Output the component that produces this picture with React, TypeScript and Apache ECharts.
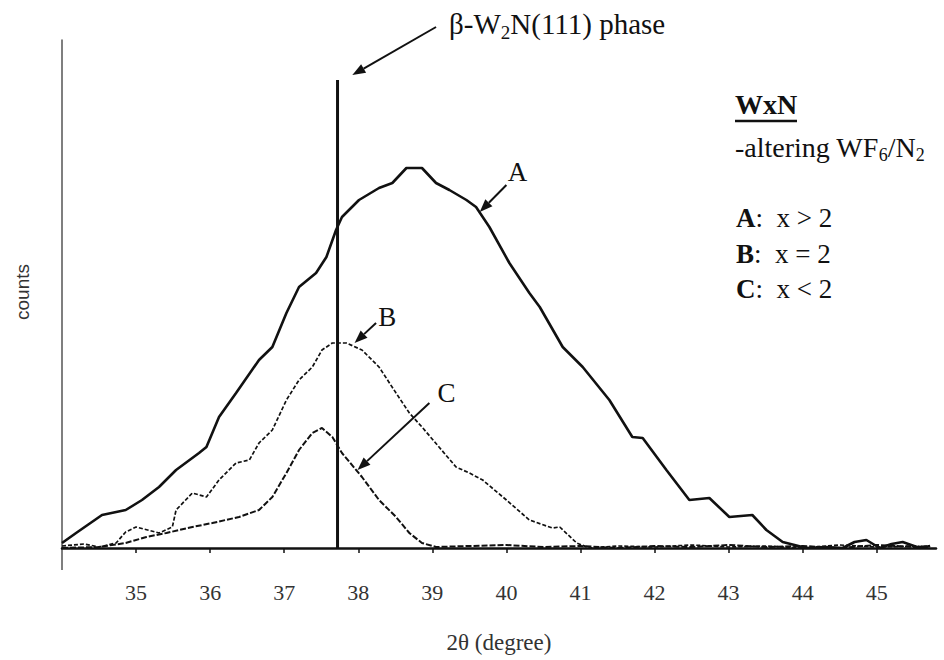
import React, { useEffect, useRef } from "react";
import * as echarts from "echarts";

// x = 2θ (degree), y = counts (arbitrary units)
const xTickValues = [35, 36, 37, 38, 39, 40, 41, 42, 43, 44, 45];

const curveA: [number, number][] = [
  [34.0, 5], [34.19, 15], [34.54, 33], [34.86, 38], [35.08, 48], [35.31, 61],
  [35.54, 78], [35.85, 95], [35.95, 101], [36.12, 131], [36.35, 155], [36.66, 188],
  [36.84, 201], [37.03, 235], [37.2, 261], [37.43, 275], [37.57, 291], [37.7, 318],
  [37.78, 331], [38.01, 348], [38.28, 360], [38.46, 365], [38.65, 380], [38.86, 380],
  [39.05, 365], [39.23, 358], [39.46, 348], [39.59, 341], [39.77, 321], [40.04, 285],
  [40.31, 255], [40.45, 241], [40.76, 201], [41.03, 181], [41.39, 148], [41.7, 111],
  [41.84, 110], [42.16, 78], [42.47, 48], [42.74, 50], [43.01, 31], [43.32, 33],
  [43.51, 18], [43.73, 6], [44.05, 0], [44.32, 1], [44.54, 0], [44.7, 6], [44.86, 8],
  [45.04, 0], [45.2, 4], [45.35, 6], [45.58, 0], [45.72, 2],
];

const curveB: [number, number][] = [
  [34.0, 2], [34.3, 4], [34.5, 1], [34.73, 5], [34.86, 16], [35.0, 21], [35.31, 15],
  [35.49, 21], [35.54, 38], [35.76, 55], [35.95, 51], [36.12, 68], [36.35, 85],
  [36.53, 88], [36.66, 105], [36.84, 118], [37.03, 148], [37.2, 168], [37.38, 181],
  [37.51, 198], [37.65, 205], [37.84, 205], [38.05, 198], [38.28, 181], [38.51, 155],
  [38.69, 135], [38.86, 121], [39.09, 101], [39.32, 81], [39.5, 75], [39.68, 68],
  [40.0, 48], [40.31, 28], [40.62, 20], [40.72, 21], [40.95, 5], [41.12, 0],
  [41.5, 2], [42.0, 1], [42.5, 3], [43.0, 1], [43.5, 2], [44.0, 0], [44.5, 3],
  [45.0, 1], [45.5, 2], [45.72, 1],
];

const curveC: [number, number][] = [
  [34.0, 0], [34.5, 1], [34.86, 5], [35.14, 11], [35.41, 15], [35.76, 21], [36.03, 25],
  [36.39, 31], [36.66, 38], [36.84, 51], [37.03, 75], [37.2, 98], [37.38, 115],
  [37.51, 120], [37.65, 111], [37.78, 95], [38.05, 71], [38.28, 48], [38.51, 31],
  [38.69, 15], [38.86, 5], [39.05, 1], [39.5, 2], [40.0, 3], [40.5, 1], [41.0, 2],
  [41.5, 0], [42.0, 2], [42.5, 1], [43.0, 3], [43.5, 1], [44.0, 2], [44.5, 0],
  [45.0, 3], [45.5, 1], [45.72, 2],
];

const phaseLine: [number, number][] = [[37.72, 0], [37.72, 468]];

// annotation arrows (tail -> head), in data coordinates
const arrows: { from: [number, number]; to: [number, number] }[] = [
  { from: [39.05, 521], to: [37.92, 473] },
  { from: [40.0, 363], to: [39.64, 336] },
  { from: [38.24, 225], to: [37.95, 205] },
  { from: [38.96, 145], to: [37.99, 78] },
];

const curveLabels: { text: string; at: [number, number] }[] = [
  { text: "A", at: [40.15, 376] },
  { text: "B", at: [38.39, 231] },
  { text: "C", at: [39.19, 155] },
];

const SERIF = "Liberation Serif, Times New Roman, serif";
const SANS = "Liberation Sans, Arial, sans-serif";

export default function App() {
  const ref = useRef<HTMLDivElement>(null);

  useEffect(() => {
    const chart = echarts.init(ref.current!, null, { renderer: "svg" });
    chart.setOption({
      animation: false,
      backgroundColor: "#ffffff",
      textStyle: { fontFamily: SERIF },
      grid: { left: 62, right: 8, top: 40, bottom: 112, outerBoundsMode: "none", containLabel: false },
      xAxis: {
        type: "value",
        min: 34,
        max: 45.8,
        interval: 1,
        axisLine: { lineStyle: { color: "#111", width: 2.5 } },
        axisTick: { show: true, length: 5, lineStyle: { color: "#111", width: 1.5 } },
        axisLabel: {
          showMinLabel: false,
          showMaxLabel: false,
          margin: 33,
          fontFamily: SERIF,
          fontSize: 22,
          color: "#333",
          formatter: (v: number) => (xTickValues.includes(v) ? String(v) : ""),
        },
        splitLine: { show: false },
        name: "2θ (degree)",
        nameLocation: "middle",
        nameGap: 83,
        nameTextStyle: { fontFamily: SERIF, fontSize: 23, color: "#333" },
      },
      yAxis: {
        type: "value",
        min: 0,
        max: 508,
        axisLine: { show: true, lineStyle: { color: "#555", width: 1.5 } },
        axisTick: { show: false },
        axisLabel: { show: false },
        splitLine: { show: false },
      },
      series: [
        {
          name: "A", type: "line", data: curveA, showSymbol: false, z: 4,
          lineStyle: { color: "#111", width: 2.6 },
        },
        {
          name: "B", type: "line", data: curveB, showSymbol: false, z: 3,
          lineStyle: { color: "#111", width: 1.7, type: [4, 2] },
        },
        {
          name: "C", type: "line", data: curveC, showSymbol: false, z: 3,
          lineStyle: { color: "#111", width: 2, type: [6, 2] },
        },
        {
          name: "phase", type: "line", data: phaseLine, showSymbol: false, z: 5,
          lineStyle: { color: "#111", width: 3 },
        },
      ],
    });

    const toPx = (p: [number, number]) =>
      chart.convertToPixel({ gridIndex: 0 }, p) as unknown as number[];

    const graphics: any[] = [];
    // y axis continues a little below the baseline, as in the reference
    const [ax0, ay0] = toPx([34, 0]);
    graphics.push({
      type: "line",
      shape: { x1: ax0, y1: ay0, x2: ax0, y2: ay0 + 22 },
      style: { stroke: "#555", lineWidth: 1.5 },
    });

    arrows.forEach((a) => {
      const [x1, y1] = toPx(a.from);
      const [x2, y2] = toPx(a.to);
      const dx = x2 - x1, dy = y2 - y1;
      const len = Math.hypot(dx, dy);
      const ux = dx / len, uy = dy / len;
      const hl = 13, hw = 5;
      const bx = x2 - ux * hl, by = y2 - uy * hl;
      graphics.push({
        type: "line",
        shape: { x1, y1, x2: bx, y2: by },
        style: { stroke: "#111", lineWidth: 2 },
      });
      graphics.push({
        type: "polygon",
        shape: { points: [[x2, y2], [bx - uy * hw, by + ux * hw], [bx + uy * hw, by - ux * hw]] },
        style: { fill: "#111" },
      });
    });
    curveLabels.forEach((l) => {
      const [x, y] = toPx(l.at);
      graphics.push({
        type: "text", x, y,
        style: {
          text: l.text, fontFamily: SERIF, fontSize: 27, fill: "#111",
          align: "center", verticalAlign: "middle",
        },
      });
    });

    const rich = (size: number) => ({
      n: { fontFamily: SERIF, fontSize: size, fill: "#111", lineHeight: size + 6, verticalAlign: "middle" },
      s: { fontFamily: SERIF, fontSize: Math.round(size * 0.65), fill: "#111", lineHeight: size + 6, verticalAlign: "bottom" },
      b: { fontFamily: SERIF, fontSize: size, fontWeight: "bold", fill: "#111", lineHeight: size + 6, verticalAlign: "middle" },
    });

    graphics.push(
      {
        type: "text", x: 449, y: 24,
        style: {
          text: "{n|β-W}{s|2}{n|N(111) phase}", rich: rich(29), fontFamily: SERIF,
          align: "left", verticalAlign: "middle",
        },
      },
      {
        type: "text", x: 735, y: 104,
        style: {
          text: "WxN", fontFamily: SERIF, fontSize: 28, fontWeight: "bold", fill: "#111",
          align: "left", verticalAlign: "middle",
        },
      },
      {
        type: "line",
        shape: { x1: 735, y1: 121, x2: 797, y2: 121 },
        style: { stroke: "#111", lineWidth: 2.5 },
      },
      {
        type: "text", x: 735, y: 147,
        style: {
          text: "{n|-altering WF}{s|6}{n|/N}{s|2}", rich: rich(28), fontFamily: SERIF,
          align: "left", verticalAlign: "middle",
        },
      },
      {
        type: "text", x: 736, y: 218,
        style: { text: "{b|A}{n|:  x > 2}", rich: rich(27), fontFamily: SERIF, align: "left", verticalAlign: "middle" },
      },
      {
        type: "text", x: 736, y: 254,
        style: { text: "{b|B}{n|:  x = 2}", rich: rich(27), fontFamily: SERIF, align: "left", verticalAlign: "middle" },
      },
      {
        type: "text", x: 736, y: 289,
        style: { text: "{b|C}{n|:  x < 2}", rich: rich(27), fontFamily: SERIF, align: "left", verticalAlign: "middle" },
      },
      {
        type: "text", x: 22, y: 292, rotation: Math.PI / 2,
        style: {
          text: "counts", fontFamily: SANS, fontSize: 19,
          fill: "#333", align: "center", verticalAlign: "middle",
        },
      }
    );

    chart.setOption({ graphic: graphics });

    return () => chart.dispose();
  }, []);

  return (
    <div
      ref={ref}
      style={{ position: "fixed", left: 0, top: 0, width: 944, height: 660, background: "#fff" }}
    />
  );
}
